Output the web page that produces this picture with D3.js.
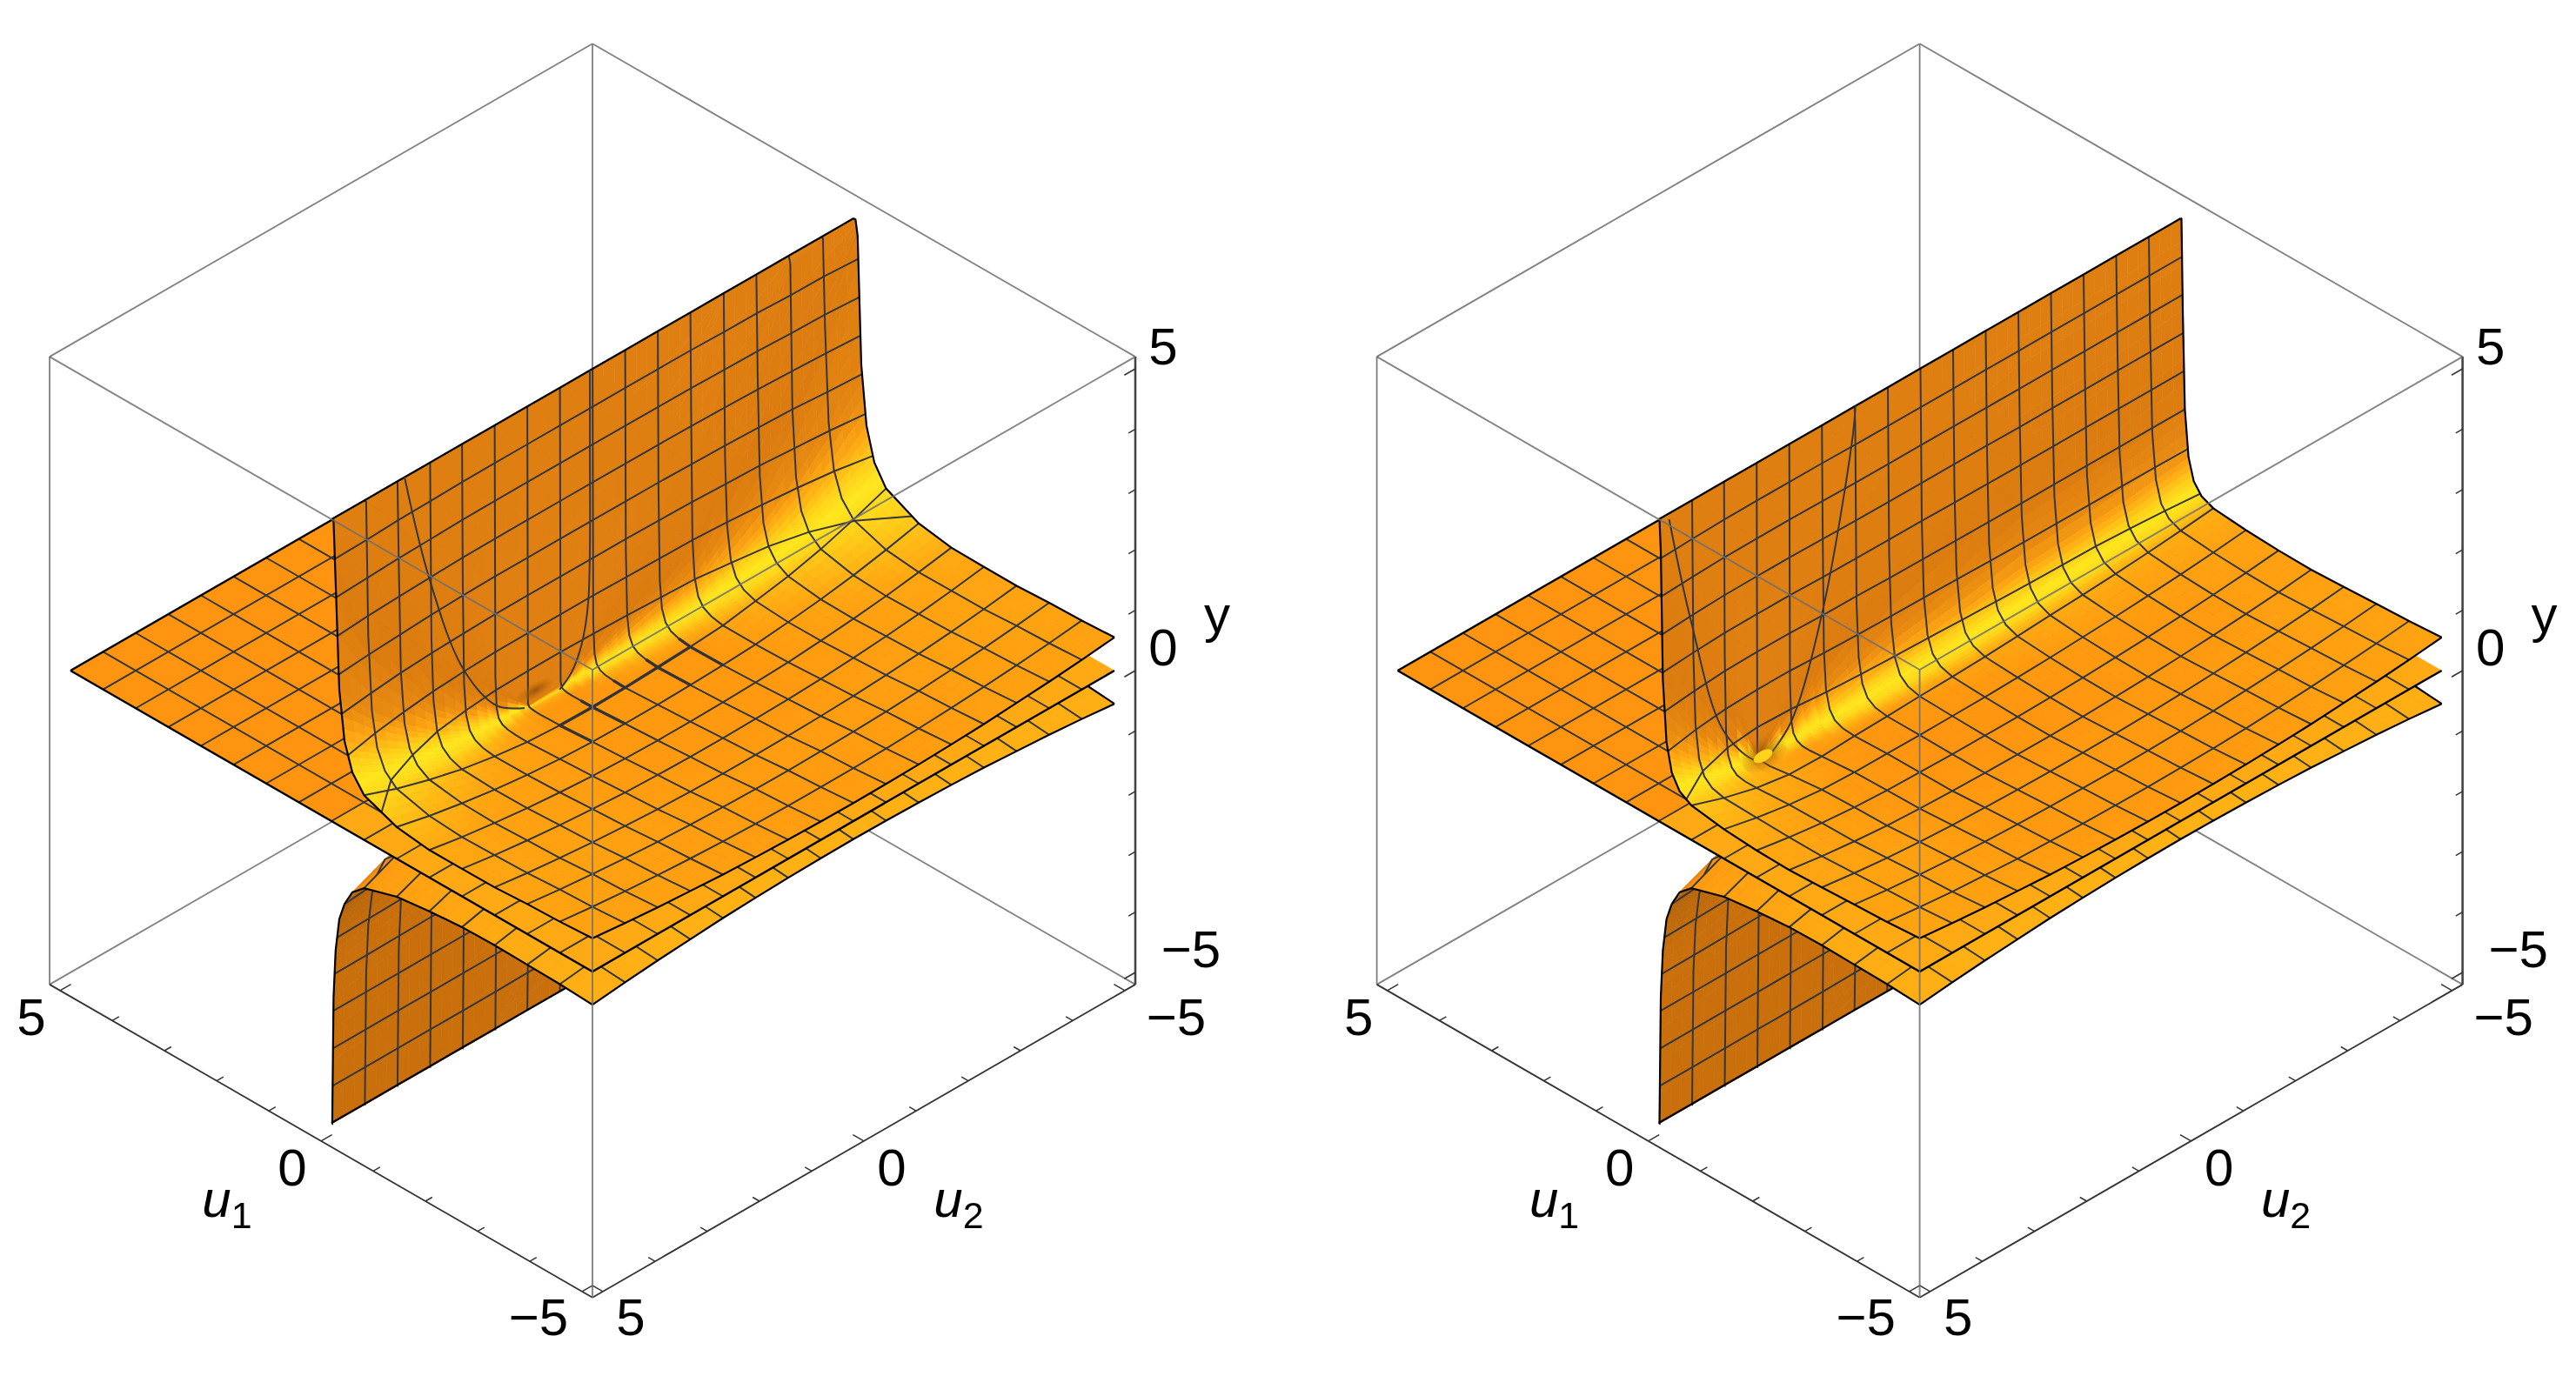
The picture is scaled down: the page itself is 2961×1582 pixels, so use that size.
<!DOCTYPE html>
<html>
<head>
<meta charset="utf-8">
<script src="https://cdn.jsdelivr.net/npm/d3@7/dist/d3.min.js"></script>
<style>
  html, body { margin: 0; background: #fff; }
  svg { display: block; filter: blur(0.5px); }
  text { font-family: "Liberation Sans", Arial, sans-serif; font-size: 60px; fill: #000; }
</style>
</head>
<body>
<svg id="chart" width="2961" height="1582"></svg>
<script>
// mesh positions, 16 cells over -5..5
var u1Mesh = [-5, -4.375, -3.75, -3.125, -2.5, -1.875, -1.25, -0.625, 0, 0.625, 1.25, 1.875, 2.5, 3.125, 3.75, 4.375, 5];
var u2Mesh = [5, 4.375, 3.75, 3.125, 2.5, 1.875, 1.25, 0.625, 0, -0.625, -1.25, -1.875, -2.5, -3.125, -3.75, -4.375, -5];
// the first 8 rows are mesh lines, the rest crowd in on the pole at u1 = 0
var u1Rows = [-5, -4.375, -3.75, -3.125, -2.5, -1.875, -1.25, -0.625, -0.4, -0.25, -0.15, -0.08, -0.04, -0.015, -0.002];
var yLevelsUp = [0.625, 1.25, 1.875, 2.5, 3.125, 3.75, 4.375];
var yLevelsDown = [-1.25, -1.875, -2.5, -3.125, -3.75, -4.375];
var axisTicks = [-5, -4, -3, -2, -1, 0, 1, 2, 3, 4, 5];
var majorTicks = [-5, 0, 5];

// upper sheet, left plot: y per u1Rows row and u2Mesh column
var topLeftY = [
  [.55,.49,.44,.40,.36,.335,.316,.304,.30,.304,.316,.335,.36,.40,.44,.49,.55],
  [.515,.45,.397,.352,.315,.286,.266,.254,.251,.255,.268,.288,.317,.355,.40,.454,.518],
  [.495,.426,.369,.321,.28,.251,.231,.219,.216,.222,.235,.255,.287,.326,.374,.432,.501],
  [.461,.386,.324,.272,.23,.197,.176,.164,.162,.168,.182,.204,.238,.28,.332,.396,.471],
  [.456,.372,.303,.245,.199,.163,.141,.13,.128,.136,.15,.174,.212,.258,.316,.388,.472],
  [.455,.359,.281,.215,.164,.125,.101,.09,.09,.099,.115,.14,.184,.235,.301,.383,.479],
  [.525,.398,.295,.208,.143,.094,.067,.056,.059,.073,.092,.123,.18,.246,.333,.443,.57],
  [.74,.536,.374,.236,.137,.064,.028,.017,.029,.054,.082,.125,.217,.316,.454,.632,.836],
  [1.005,.72,.495,.303,.168,.07,.024,.014,.035,.072,.109,.165,.29,.428,.62,.87,1.155],
  [1.45,1.03,.70,.418,.222,.083,.02,.012,.048,.104,.156,.235,.422,.618,.90,1.27,1.69],
  [2.25,1.59,1.07,.63,.33,.115,.023,.017,.08,.17,.25,.37,.66,.965,1.41,1.99,2.65],
  [4.0,2.8,1.89,1.1,.56,.185,.03,.03,.15,.316,.45,.66,1.19,1.72,2.5,3.56,4.75],
  [5,5,3.64,2.1,1.06,.335,.04,.05,.3,.63,.89,1.29,2.31,3.35,4.89,5,5],
  [5,5,5,5,2.74,.84,.08,.14,.8,1.68,2.36,3.38,5,5,5,5,5],
  [5,5,5,5,5,5,5,5,5,5,5,5,5,5,5,5,5]
];
// upper sheet, right plot
var topRightY = [
  [.55,.49,.44,.40,.36,.335,.316,.304,.30,.304,.316,.335,.36,.40,.44,.49,.55],
  [.51,.445,.39,.35,.31,.29,.27,.26,.255,.26,.27,.29,.32,.355,.40,.45,.51],
  [.487,.419,.363,.318,.284,.26,.243,.233,.23,.235,.248,.268,.296,.331,.373,.423,.483],
  [.459,.385,.325,.278,.245,.224,.208,.199,.197,.203,.216,.237,.265,.30,.342,.392,.452],
  [.436,.354,.288,.238,.207,.189,.175,.168,.167,.174,.188,.21,.238,.273,.315,.365,.425],
  [.448,.356,.282,.228,.198,.185,.174,.17,.17,.178,.194,.217,.245,.28,.322,.372,.432],
  [.488,.368,.273,.209,.184,.183,.179,.182,.185,.197,.216,.243,.27,.306,.348,.398,.458],
  [.572,.384,.238,.15,.137,.165,.178,.198,.21,.23,.258,.293,.32,.356,.398,.448,.508],
  [.695,.435,.235,.12,.12,.18,.21,.249,.27,.30,.336,.38,.41,.443,.485,.535,.595],
  [.93,.55,.26,.102,.122,.235,.296,.364,.40,.444,.496,.555,.582,.618,.66,.71,.77],
  [1.38,.79,.34,.105,.163,.37,.483,.604,.667,.738,.816,.90,.93,.965,1.0,1.06,1.12],
  [2.38,1.32,.515,.11,.25,.66,.89,1.13,1.25,1.38,1.52,1.66,1.69,1.72,1.77,1.81,1.88],
  [4.5,2.44,.89,.12,.44,1.29,1.77,2.25,2.5,2.75,3.0,3.29,3.31,3.35,3.39,3.44,3.5],
  [5,5,2.15,.16,1.07,3.4,4.7,5,5,5,5,5,5,5,5,5,5],
  [5,5,5,5,5,5,5,5,5,5,5,5,5,5,5,5,5]
];
// lower sheet, both plots look alike
var bottomY = [
  [-.55,-.49,-.44,-.40,-.36,-.335,-.316,-.304,-.30,-.304,-.316,-.335,-.36,-.40,-.44,-.49,-.55],
  [-.52,-.45,-.40,-.355,-.318,-.289,-.269,-.257,-.253,-.257,-.269,-.288,-.315,-.35,-.393,-.443,-.503],
  [-.51,-.427,-.372,-.326,-.288,-.258,-.237,-.224,-.22,-.224,-.236,-.255,-.283,-.318,-.36,-.41,-.47],
  [-.50,-.387,-.329,-.28,-.24,-.209,-.186,-.173,-.169,-.173,-.185,-.204,-.231,-.267,-.309,-.359,-.419],
  [-.51,-.375,-.311,-.258,-.215,-.182,-.157,-.143,-.139,-.143,-.155,-.174,-.2,-.236,-.278,-.328,-.388],
  [-.56,-.363,-.293,-.235,-.188,-.152,-.125,-.109,-.105,-.109,-.121,-.14,-.168,-.203,-.245,-.295,-.355],
  [-.63,-.405,-.318,-.245,-.19,-.145,-.111,-.092,-.088,-.092,-.104,-.123,-.15,-.186,-.228,-.278,-.338],
  [-.80,-.552,-.422,-.316,-.233,-.173,-.122,-.094,-.09,-.094,-.106,-.125,-.153,-.188,-.23,-.28,-.34],
  [-.98,-.745,-.565,-.423,-.313,-.24,-.166,-.13,-.125,-.13,-.14,-.16,-.19,-.22,-.265,-.315,-.375],
  [-1.25,-1.07,-.82,-.618,-.46,-.355,-.256,-.2,-.2,-.2,-.22,-.235,-.26,-.3,-.34,-.39,-.45],
  [-1.55,-1.45,-1.27,-.965,-.73,-.57,-.416,-.34,-.33,-.34,-.35,-.37,-.4,-.43,-.47,-.52,-.58],
  [-2.1,-2.0,-1.9,-1.7,-1.3,-1.04,-.77,-.63,-.63,-.63,-.65,-.66,-.69,-.72,-.77,-.82,-.88],
  [-2.9,-2.8,-2.7,-2.5,-2.3,-2.0,-1.5,-1.25,-1.25,-1.25,-1.27,-1.29,-1.31,-1.35,-1.39,-1.44,-1.5],
  [-5,-5,-5,-5,-5,-5,-4,-3.35,-3.35,-3.35,-3.4,-3.4,-3.45,-3.5,-3.55,-3.6,-3.7],
  [-5,-5,-5,-5,-5,-5,-5,-5,-5,-5,-5,-5,-5,-5,-5,-5,-5]
];
// the u1 = 0 mesh line on the wall, pairs of [u2, y]
var leftZeroA = [[3.6,5],[3.13,3.1],[2.47,1.25],[1.83,.33],[1.3,.03]];
var leftZeroB = [[.05,5],[.05,3.9],[.08,1.19],[.2,.56],[.4,.17],[.63,0]];
var rightZeroA = [[4.8,4.9],[4.38,3.0],[3.77,.9],[3.2,.125],[3.0,.02]];
var rightZeroB = [[1.23,5],[1.28,4.54],[1.87,1.88],[2.47,.37],[2.93,0]];
// mesh lines where the upper sheet touches the middle one: row, first col, last col
var leftThickRows = [[7, 6, 10]];
// col, first row, last row
var leftThickCols = [[6, 6, 7], [7, 6, 8], [8, 7, 8], [9, 6, 8], [10, 6, 8]];

var svg = d3.select("#chart");
var defs = svg.append("defs");
var dark = defs.append("radialGradient").attr("id", "holeDark");
dark.append("stop").attr("offset", "0%").attr("stop-color", "#8f4f08").attr("stop-opacity", 0.9);
dark.append("stop").attr("offset", "100%").attr("stop-color", "#b8660c").attr("stop-opacity", 0);

var colU1 = d3.scaleLinear().domain([-5, 5]).range([300, -300]);
var colU2 = d3.scaleLinear().domain([-5, 5]).range([300, -300]);
var rowU1 = d3.scaleLinear().domain([-5, 5]).range([173, -173]);
var rowU2 = d3.scaleLinear().domain([-5, 5]).range([-173, 173]);
var rowY = d3.scaleLinear().domain([-5, 5]).range([347, -347]);

var topShade = d3.scaleLinear()
  .domain([-2, -1.2, -0.85, -0.55, -0.25, 0.1, 0.4, 0.7, 1.0, 1.4, 2.5])
  .range(["#ff9410", "#ff9a10", "#ffa612", "#ffbc16", "#ffd81c", "#ffe81f", "#ffd01a", "#ffa814", "#e88a11", "#dc7c10", "#e28213"])
  .clamp(true);
var bottomShade = d3.scaleLinear()
  .domain([-2, -1, -0.4, 0, 0.35, 0.7, 1.2, 2.5])
  .range(["#ffb616", "#ffb014", "#ffa012", "#f58c10", "#b0600a", "#bb680c", "#c96f0c", "#c96f0c"])
  .clamp(true);

function slopes(table) {
  var out = [];
  table.forEach(function(row, r) {
    out.push(row.map(function(v, j) {
      var a = Math.max(r - 1, 0), b = Math.min(r + 1, table.length - 1);
      var su1 = Math.abs(table[b][j] - table[a][j]) / Math.abs(u1Rows[b] - u1Rows[a]);
      if (Math.abs(v) >= 5) return 2;
      var c = Math.max(j - 1, 0), d = Math.min(j + 1, row.length - 1);
      var su2 = Math.min(Math.abs(row[d] - row[c]) / Math.abs(u2Mesh[d] - u2Mesh[c]), 0.3);
      return Math.log10(Math.max(Math.sqrt(su1 * su1 + su2 * su2), 0.01));
    }));
  });
  return out;
}

function drawPlot(cx, topTable, zeroCurves, thick, holes) {
  var cy = 771;
  var meshColor = "#363636";
  var plot = svg.append("g");
  function px(u1, u2) { return cx + colU1(u1) + colU2(u2); }
  function py(u1, u2, y) { return cy + rowU1(u1) + rowU2(u2) + rowY(y); }
  function pt(u1, u2, y) { return [px(u1, u2), py(u1, u2, y)]; }
  var polyline = d3.line();
  var smooth = d3.line().curve(d3.curveCatmullRom);

  function segs(sel, list, stroke, width) {
    sel.append("g").attr("fill", "none").attr("stroke", stroke).attr("stroke-width", width)
      .selectAll("path").data(list).join("path").attr("d", polyline);
  }

  // back of the box
  var e = 5.2;
  segs(plot, [
    [pt(e, -e, e), pt(e, e, e)],
    [pt(e, -e, e), pt(-e, -e, e)],
    [pt(e, e, e), pt(e, e, -e)],
    [pt(e, -e, e), pt(e, -e, -e)],
    [pt(e, -e, -e), pt(e, e, -e)],
    [pt(e, -e, -e), pt(-e, -e, -e)]
  ], "#808080", 1.8);

  // axes
  var axisLines = [[pt(e, e, -e), pt(-e, e, -e)], [pt(-e, e, -e), pt(-e, -e, -e)]];
  segs(plot, axisLines, "#333", 1.8);
  segs(plot, [[pt(-e, -e, -e), pt(-e, -e, e)]], "#444", 2.6);
  var ticks = [];
  axisTicks.forEach(function(t) {
    var len = majorTicks.indexOf(t) >= 0 ? 0.21 : 0.13;
    ticks.push([pt(t, e, -e), pt(t, e - len, -e)]);
    ticks.push([pt(-e, t, -e), pt(-e + len, t, -e)]);
    ticks.push([pt(-e, -e, t), pt(-e, -e + len, t)]);
  });
  segs(plot, ticks, "#333", 1.5);

  // draws rows r0..r1 of a sheet; the lower sheet goes in two passes so that its
  // top hides the wall behind it
  function sheet(table, shade, levels, r0, r1) {
    var s = slopes(table);
    var quads = [];
    for (var r = r0; r < r1; r++) {
      for (var j = 0; j < u2Mesh.length - 1; j++) {
        var nr = r >= 5 ? 4 : 2, nc = r >= 5 ? 3 : 2;
        for (var a = 0; a < nr; a++) {
          for (var b = 0; b < nc; b++) {
            var corner = (function(r, j, a, b, nr, nc) {
              return function(ia, ib) {
                var t = (a + ia) / nr, w = (b + ib) / nc;
                var mix = function(m) {
                  return (1 - t) * ((1 - w) * m[r][j] + w * m[r][j + 1]) + t * ((1 - w) * m[r + 1][j] + w * m[r + 1][j + 1]);
                };
                var u1 = (1 - t) * u1Rows[r] + t * u1Rows[r + 1];
                var u2 = (1 - w) * u2Mesh[j] + w * u2Mesh[j + 1];
                return { u1: u1, u2: u2, y: mix(table), s: mix(s) };
              };
            })(r, j, a, b, nr, nc);
            var n = [corner(0, 0), corner(0, 1), corner(1, 1), corner(1, 0)];
            quads.push({
              pts: n.map(function(p) { return pt(p.u1, p.u2, p.y); }),
              depth: d3.mean(n, function(p) { return -p.u1 + p.u2 + p.y; }),
              s: d3.mean(n, function(p) { return p.s; })
            });
          }
        }
      }
    }
    quads.sort(function(p, q) { return p.depth - q.depth; });
    plot.append("g").selectAll("path").data(quads).join("path")
      .attr("d", function(d) { return polyline(d.pts) + "Z"; })
      .attr("fill", function(d) { return shade(d.s); })
      .attr("stroke", function(d) { return shade(d.s); })
      .attr("stroke-width", 0.7);

    // mesh: constant u2 columns, constant u1 rows, constant y levels
    var rowRange = d3.range(r0, r1 + 1);
    var colLine = function(j) {
      return rowRange.map(function(r) { return pt(u1Rows[r], u2Mesh[j], table[r][j]); });
    };
    var lines = [];
    u2Mesh.forEach(function(u2, j) {
      if (j === 0 || j === u2Mesh.length - 1) return;
      lines.push(colLine(j));
    });
    for (var q = Math.max(r0, 1); q < Math.min(r1 + 1, 8); q++) {
      lines.push(table[q].map(function(v, j) { return pt(u1Rows[q], u2Mesh[j], v); }));
    }
    levels.forEach(function(lv) {
      var line = [];
      u2Mesh.forEach(function(u2, j) {
        for (var r = 0; r < table.length - 1; r++) {
          var p = table[r][j], q = table[r + 1][j];
          if ((p - lv) * (q - lv) <= 0 && p !== q) {
            var t = (lv - p) / (q - p);
            line.push(pt(u1Rows[r] + t * (u1Rows[r + 1] - u1Rows[r]), u2, lv));
            break;
          }
        }
      });
      lines.push(line);
    });
    segs(plot, lines, meshColor, 2);

    // outline
    var last = table.length - 1, lastCol = u2Mesh.length - 1;
    var rim = [colLine(0), colLine(lastCol)];
    if (r0 === 0) rim.push(table[0].map(function(v, j) { return pt(u1Rows[0], u2Mesh[j], v); }));
    if (r1 === last) rim.push(table[last].map(function(v, j) { return pt(u1Rows[last], u2Mesh[j], v); }));
    segs(plot, rim, "#000", 2.2);
  }

  sheet(bottomY, bottomShade, yLevelsDown, 9, 14);
  sheet(bottomY, bottomShade, [], 0, 9);

  // middle sheet is the plane y = 0
  var flat = [];
  for (var i = 0; i < u1Mesh.length - 1; i++) {
    for (var k = 0; k < u2Mesh.length - 1; k++) {
      flat.push({
        u1: u1Mesh[i],
        pts: [pt(u1Mesh[i], u2Mesh[k], 0), pt(u1Mesh[i + 1], u2Mesh[k], 0), pt(u1Mesh[i + 1], u2Mesh[k + 1], 0), pt(u1Mesh[i], u2Mesh[k + 1], 0)]
      });
    }
  }
  plot.append("g").selectAll("path").data(flat).join("path")
    .attr("d", function(d) { return polyline(d.pts) + "Z"; })
    .attr("fill", function(d) { return d.u1 < 0 ? "#ffaa14" : "#ff9410"; })
    .attr("stroke", function(d) { return d.u1 < 0 ? "#ffaa14" : "#ff9410"; })
    .attr("stroke-width", 0.5);
  var flatLines = [];
  u1Mesh.slice(1, -1).forEach(function(u1) { flatLines.push([pt(u1, 5, 0), pt(u1, -5, 0)]); });
  u2Mesh.slice(1, -1).forEach(function(u2) { flatLines.push([pt(-5, u2, 0), pt(5, u2, 0)]); });
  segs(plot, flatLines, meshColor, 2);
  segs(plot, [[pt(5, 5, 0), pt(-5, 5, 0), pt(-5, -5, 0)], [pt(5, 5, 0), pt(5, -5, 0)]], "#000", 2.4);

  sheet(topTable, topShade, yLevelsUp, 0, 14);

  plot.append("g").attr("fill", "none").attr("stroke", meshColor).attr("stroke-width", 2)
    .selectAll("path").data(zeroCurves).join("path")
    .attr("d", function(c) { return smooth(c.map(function(p) { return pt(0, p[0], p[1]); })); });

  // marks at the dimple
  plot.append("g").selectAll("ellipse").data(holes).join("ellipse")
    .attr("transform", function(d) { return "translate(" + pt(0, d[0], d[1]) + ") rotate(-30)"; })
    .attr("rx", function(d) { return d[2]; })
    .attr("ry", function(d) { return d[3]; })
    .attr("fill", function(d) { return d[4]; });

  var thickLines = [];
  thick.rows.forEach(function(t) {
    thickLines.push(d3.range(t[1], t[2] + 1).map(function(j) { return pt(u1Rows[t[0]], u2Mesh[j], topTable[t[0]][j]); }));
  });
  thick.cols.forEach(function(t) {
    thickLines.push(d3.range(t[1], t[2] + 1).map(function(r) { return pt(u1Rows[r], u2Mesh[t[0]], topTable[r][t[0]]); }));
  });
  segs(plot, thickLines, "#333", 3.4);

  // front of the box shows over the surface
  segs(plot, [
    [pt(-e, e, e), pt(-e, -e, e)],
    [pt(-e, e, e), pt(e, e, e)],
    [pt(-e, e, e), pt(-e, e, -e)]
  ], "rgba(110,110,110,0.85)", 1.9);

  // labels
  var labels = [
    ["5", 656, -373], ["0", 656, -27], ["\u22125", 688, 320], ["y", 718, -65],
    ["\u22125", 671, 398], ["0", 344, 571], ["5", 44, 743], ["\u22125", -62, 743],
    ["0", -345, 571], ["5", -645, 398]
  ];
  plot.append("g").attr("text-anchor", "middle").selectAll("text").data(labels).join("text")
    .attr("x", function(d) { return cx + d[1]; })
    .attr("y", function(d) { return cy + d[2]; })
    .attr("dy", "0.35em")
    .text(function(d) { return d[0]; });
  [["1", -420, 607], ["2", 421, 607]].forEach(function(d) {
    var t = plot.append("text").attr("text-anchor", "middle")
      .attr("x", cx + d[1]).attr("y", cy + d[2]).attr("dy", "0.35em");
    t.append("tspan").attr("font-style", "italic").text("u");
    t.append("tspan").attr("dy", "0.3em").style("font-size", "43px").text(d[0]);
  });
}

drawPlot(681, topLeftY, [leftZeroA, leftZeroB], { rows: leftThickRows, cols: leftThickCols },
  [[1.1, 0.22, 26, 9, "url(#holeDark)"]]);
drawPlot(2206.6, topRightY, [rightZeroA, rightZeroB], { rows: [], cols: [] },
  [[3.0, 0.12, 30, 20, "url(#holeDark)"], [3.0, 0.08, 12, 6, "#ffd21c"]]);
</script>
</body>
</html>
